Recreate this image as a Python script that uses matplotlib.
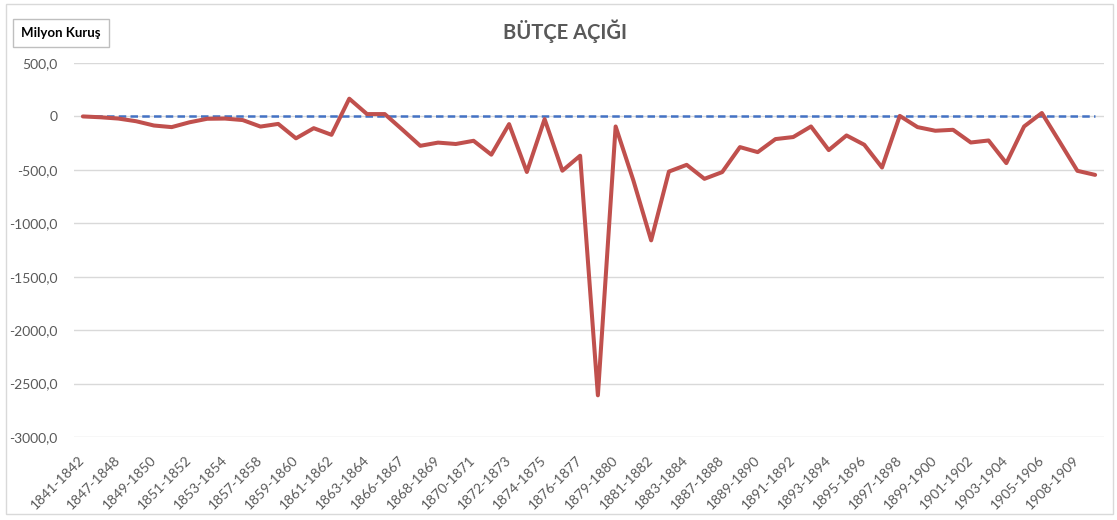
import matplotlib
matplotlib.use("Agg")
import matplotlib.pyplot as plt
from matplotlib.patches import Rectangle
from matplotlib.ticker import FixedLocator, FuncFormatter

plt.rcParams['font.family'] = ['Lato', 'DejaVu Sans']

periods = [
    "1841-1842", "1843-1844", "1847-1848", "1848-1849", "1849-1850", "1850-1851",
    "1851-1852", "1852-1853", "1853-1854", "1854-1855", "1857-1858", "1858-1859",
    "1859-1860", "1860-1861", "1861-1862", "1862-1863", "1863-1864", "1864-1865",
    "1866-1867", "1867-1868", "1868-1869", "1869-1870", "1870-1871", "1871-1872",
    "1872-1873", "1873-1874", "1874-1875", "1875-1876", "1876-1877", "1877-1878",
    "1879-1880", "1880-1881", "1881-1882", "1882-1883", "1883-1884", "1884-1885",
    "1887-1888", "1888-1889", "1889-1890", "1890-1891", "1891-1892", "1892-1893",
    "1893-1894", "1894-1895", "1895-1896", "1896-1897", "1897-1898", "1898-1899",
    "1899-1900", "1900-1901", "1901-1902", "1902-1903", "1903-1904", "1904-1905",
    "1905-1906", "1906-1907", "1908-1909", "1909-1910",
]

deficit = [
    0, -8, -20, -45, -85, -100, -55, -22, -20, -34, -95, -70,
    -205, -110, -172, 166, 22, 22, -125, -275, -245, -258, -228, -358,
    -72, -520, -25, -508, -368, -2610, -94, -600, -1160, -516, -453, -584,
    -521, -287, -334, -212, -193, -94, -315, -178, -265, -478, 5, -100,
    -134, -125, -244, -225, -437, -94, 32, -237, -509, -547,
]

zero_line = [0] * len(periods)

yticks = [500, 0, -500, -1000, -1500, -2000, -2500, -3000]

title = "BÜTÇE AÇIĞI"
unit_label = "Milyon Kuruş"

W, H = 1117, 520
fig = plt.figure(figsize=(W / 100, H / 100), dpi=100)
fig.patch.set_facecolor("white")

# outer chart frame
fig.patches.append(Rectangle((6 / W, 1 - 514 / H), 1107 / W, 510 / H,
                             transform=fig.transFigure, fill=False,
                             edgecolor="#d9d9d9", linewidth=1))

ax = fig.add_axes([74 / W, 1 - 437 / H, 1030 / W, 374 / H])
x = list(range(len(periods)))

ax.plot(x, zero_line, color="#4472C4", linewidth=1.8, linestyle=(0, (3, 1.7)),
        zorder=2)
ax.plot(x, deficit, color="#C0504D", linewidth=2.9, solid_joinstyle="round",
        solid_capstyle="round", zorder=3)

ax.set_xlim(-0.5, len(periods) - 0.5)
ax.set_ylim(-3000, 500)

ax.yaxis.set_major_locator(FixedLocator(yticks))
ax.yaxis.set_major_formatter(FuncFormatter(
    lambda v, p: "0" if v == 0 else f"{v:.1f}".replace(".", ",")))
ax.grid(axis="y", color="#d9d9d9", linewidth=1)
ax.set_axisbelow(True)

ax.set_xticks(x[::2])
ax.set_xticklabels(periods[::2], rotation=45, ha="right", va="center",
                   rotation_mode="anchor")
ax.tick_params(axis="x", length=0, pad=15, labelsize=10, labelcolor="#595959")
ax.tick_params(axis="y", length=0, pad=12, labelsize=10, labelcolor="#595959")

for s in ax.spines.values():
    s.set_visible(False)

fig.text(565 / W, 1 - 31 / H, title, ha="center", va="center",
         fontsize=14.5, fontweight="bold", color="#595959")

fig.text(61 / W, 1 - 33 / H, unit_label, ha="center", va="center",
         fontsize=9.5, fontweight="bold", color="black",
         bbox=dict(boxstyle="square,pad=0.62", facecolor="white",
                   edgecolor="#bfbfbf", linewidth=1))

fig.savefig("out.png", dpi=100, facecolor="white")
